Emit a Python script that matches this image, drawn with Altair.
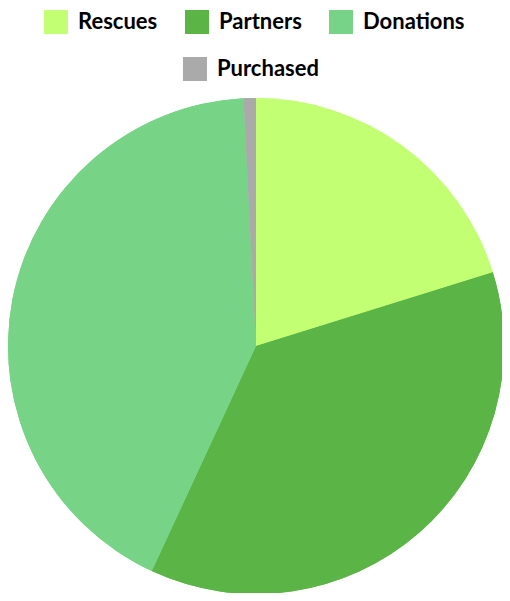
import altair as alt
import pandas as pd

categories = ["Rescues", "Partners", "Donations", "Purchased"]
values = [20.2, 36.7, 42.3, 0.8]
colors = ["#c2ff73", "#5bb546", "#77d486", "#aaaaaa"]

df = pd.DataFrame({"source": categories, "value": values, "idx": list(range(len(categories)))})

FONT = "Lato"

def legend(vals, x, y):
    return alt.Legend(
        title=None, orient="none", legendX=x, legendY=y, direction="horizontal",
        values=vals, symbolType="square", symbolSize=576, symbolStrokeWidth=0,
        symbolOpacity=1, labelFont=FONT, labelFontSize=22, labelFontWeight="bold",
        labelColor="#000000", labelOffset=10, columnPadding=27, padding=0,
        labelLimit=300,
    )

base = alt.Chart(df).encode(
    theta=alt.Theta("value:Q", stack=True),
    order=alt.Order("idx:Q"),
    x=alt.value(248),
    y=alt.value(249),
)

pie = base.mark_arc(radius=248, stroke=None).encode(
    color=alt.Color("source:N", sort=None,
                    scale=alt.Scale(domain=categories, range=colors),
                    legend=legend(categories[:3], 36, -87))
)
pie2 = base.mark_arc(radius=248, stroke=None).encode(
    color=alt.Color("source:N", sort=None,
                    scale=alt.Scale(domain=categories, range=colors),
                    legend=legend(categories[3:], 175, -40))
)

chart = alt.layer(pie, pie2).resolve_scale(color="independent").properties(
    width=494, height=496,
    padding={"left": 0, "top": 89, "right": 0, "bottom": 0},
    autosize=alt.AutoSizeParams(type="none"),
).configure_view(stroke=None)

chart.save("out.html", embed_options={"renderer": "svg", "actions": False})
